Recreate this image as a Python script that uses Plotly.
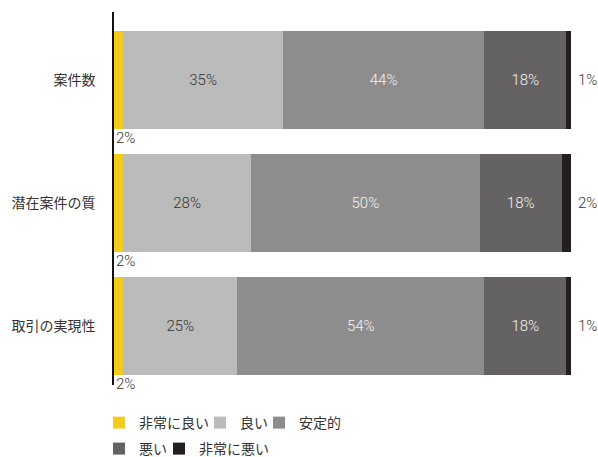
import plotly.graph_objects as go

categories = ["案件数", "潜在案件の質", "取引の実現性"]
series_names = ["非常に良い", "良い", "安定的", "悪い", "非常に悪い"]
very_good = [2, 2, 2]
good = [35, 28, 25]
stable = [44, 50, 54]
bad = [18, 18, 18]
very_bad = [1, 2, 1]

values = [very_good, good, stable, bad, very_bad]
colors = ["#F2CB1D", "#BBBBBB", "#8D8D8D", "#646262", "#231F20"]
text_colors = ["#333333", "#333333", "#F4F4F4", "#F4F4F4", "#333333"]

# one single-entry legend per series so each key sits at its own spot
legend_ids = ["legend", "legend2", "legend3", "legend4", "legend5"]
legend_pos = [(-0.0328, -0.1019), (0.1882, -0.1019), (0.3173, -0.1019),
              (-0.0328, -0.1716), (0.0985, -0.1716)]

pct_font = "Roboto, Noto Sans, sans-serif"
jp_font = "Noto Sans CJK JP, sans-serif"

fig = go.Figure()
for i, (name, vals) in enumerate(zip(series_names, values)):
    inside = i in (1, 2, 3)
    fig.add_trace(go.Bar(
        y=categories,
        x=vals,
        name=name,
        orientation="h",
        marker=dict(color=colors[i], line=dict(width=0)),
        text=[f"{v}%" for v in vals] if inside else None,
        textposition="inside" if inside else "none",
        insidetextanchor="middle",
        textfont=dict(family=pct_font, size=15, weight=300, color=text_colors[i]),
        constraintext="none",
        legend=legend_ids[i],
        width=0.8,
        hoverinfo="skip",
    ))

annotations = []
# small "非常に良い" shares written just under each bar's left end
for cat, v in zip(categories, very_good):
    annotations.append(dict(
        x=0, y=cat, xref="x", yref="y", text=f"{v}%", showarrow=False,
        xanchor="left", yanchor="middle", xshift=0, yshift=-58,
        font=dict(family=pct_font, size=15, weight=300, color="#333333"),
    ))
# "非常に悪い" shares written past the right end of each bar
for cat, vals in zip(categories, zip(*values)):
    total = sum(vals)
    annotations.append(dict(
        x=total, y=cat, xref="x", yref="y", text=f"{vals[-1]}%", showarrow=False,
        xanchor="left", yanchor="middle", xshift=5,
        font=dict(family=pct_font, size=15, weight=300, color="#333333"),
    ))

legend_common = dict(
    orientation="h", xanchor="left", yanchor="middle",
    font=dict(family=jp_font, size=14, color="#333333"),
    bgcolor="rgba(0,0,0,0)", itemwidth=30,
    itemclick=False, itemdoubleclick=False,
)
legends = {}
for lid, (lx, ly) in zip(legend_ids, legend_pos):
    legends[lid] = dict(x=lx, y=ly, **legend_common)

fig.update_layout(
    width=598, height=457,
    margin=dict(l=114, r=27, t=12, b=72, autoexpand=False),
    paper_bgcolor="white", plot_bgcolor="white",
    barmode="stack",
    showlegend=True,
    xaxis=dict(range=[0, 100], visible=False, fixedrange=True),
    yaxis=dict(
        range=[2.48, -0.553],
        showline=True, linecolor="#111111", linewidth=1.5,
        showgrid=False, zeroline=False, ticks="",
        ticklabelstandoff=14,
        tickfont=dict(family=jp_font, size=14, color="#333333"),
        fixedrange=True,
    ),
    annotations=annotations,
    hovermode=False,
    **legends,
)

fig.write_html("out.html", config={"displayModeBar": False})
